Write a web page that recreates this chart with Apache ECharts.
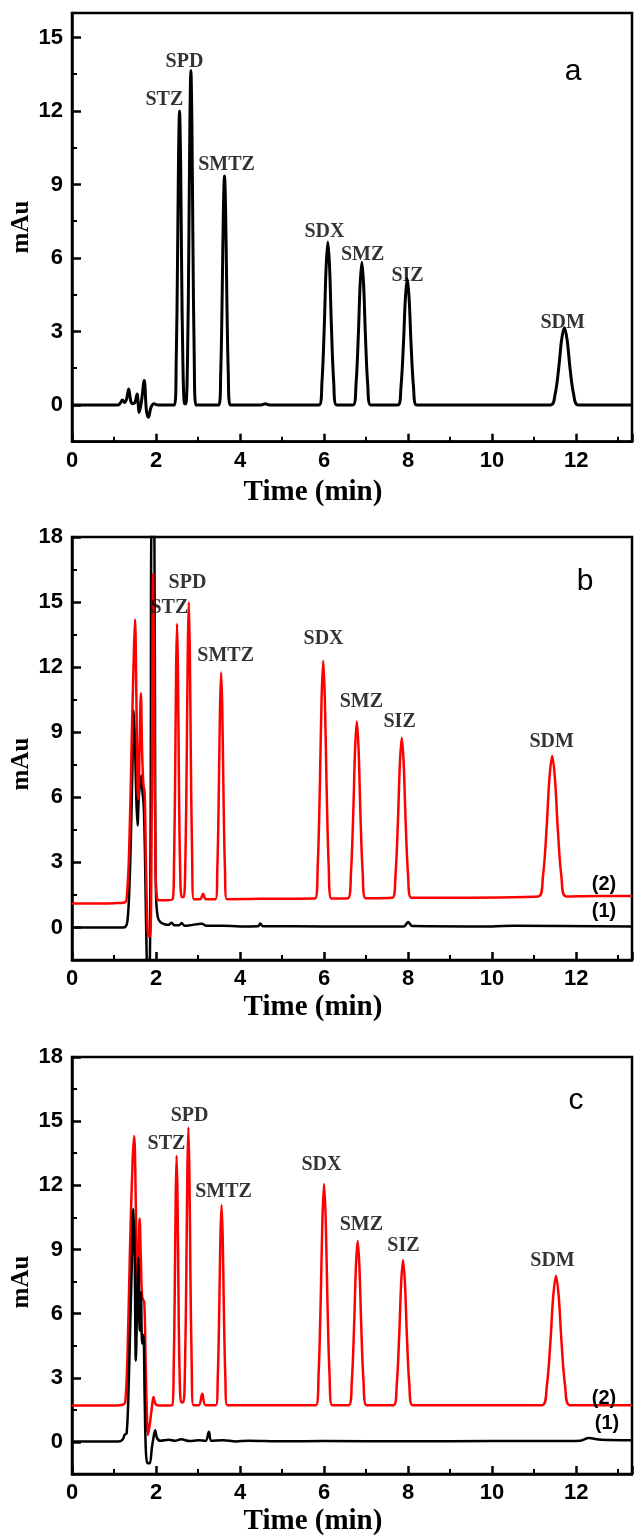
<!DOCTYPE html>
<html><head><meta charset="utf-8">
<script src="https://cdn.jsdelivr.net/npm/echarts@6/dist/echarts.min.js"></script>
<style>html,body{margin:0;padding:0;background:#fff}#c{width:635px;height:1535px}</style>
</head><body><div id="c"></div>
<script>
// ---------- data (time in min, signal in mAu) ----------
const xTicksMax = 13.33;
const xTickLabels = [0, 2, 4, 6, 8, 10, 12];
const yMajorA = [0, 3, 6, 9, 12, 15];
const yMinorA = [1.5, 4.5, 7.5, 10.5, 13.5];
const yMajorBC = [0, 3, 6, 9, 12, 15, 18];
const yMinorBC = [1.5, 4.5, 7.5, 10.5, 13.5, 16.5];

const peakNames = ['STZ', 'SPD', 'SMTZ', 'SDX', 'SMZ', 'SIZ', 'SDM'];
const labelPosA = [[2.21, 12.43], [2.69, 13.98], [3.69, 9.78], [6.02, 7.05], [6.93, 6.11], [8.0, 5.26], [11.69, 3.34]];
const labelPosB = [[2.33, 14.72], [2.76, 15.87], [3.67, 12.5], [6.0, 13.29], [6.9, 10.38], [7.81, 9.46], [11.43, 8.54]];
const labelPosC = [[2.26, 13.93], [2.81, 15.24], [3.62, 11.69], [5.95, 12.95], [6.9, 10.14], [7.9, 9.16], [11.45, 8.46]];

const traceA = [
  [0,0],[1.1,0],[1.15,0.08],[1.2,0.2],[1.25,0.1],[1.3,0.25],[1.35,0.65],[1.4,0.15],[1.45,0.05],[1.5,0.1],
  [1.55,0.45],[1.6,-0.3],[1.65,0.1],[1.72,1.0],[1.77,-0.2],[1.82,-0.5],[1.88,-0.1],[1.95,0.05],[2.05,0],[2.44,0],
  [2.48,1.7],[2.512,5.9],[2.536,10.1],[2.56,12.0],[2.584,10.1],[2.608,5.9],[2.64,1.7],[2.68,0.05],[2.71,0.05],
  [2.75,1.9],[2.782,6.7],[2.806,11.5],[2.83,13.65],[2.854,11.5],[2.878,6.7],[2.91,1.9],[2.95,0],
  [3.495,0],[3.54,1.3],[3.576,4.6],[3.603,7.9],[3.63,9.35],[3.657,7.9],[3.684,4.6],[3.72,1.3],[3.765,0],
  [4.5,0],[4.6,0.05],[4.7,0],
  [5.88,0],[5.95,0.93],[6.006,3.26],[6.048,5.59],[6.09,6.65],[6.132,5.59],[6.174,3.26],[6.23,0.93],[6.30,0],
  [6.69,0],[6.76,0.82],[6.816,2.86],[6.858,4.9],[6.9,5.83],[6.942,4.9],[6.984,2.86],[7.04,0.82],[7.11,0],
  [7.755,0],[7.83,0.72],[7.89,2.52],[7.935,4.33],[7.98,5.15],[8.025,4.33],[8.07,2.52],[8.13,0.72],[8.205,0],
  [11.39,0],[11.5,0.44],[11.588,1.54],[11.654,2.65],[11.72,3.15],[11.786,2.65],[11.852,1.54],[11.94,0.44],[12.05,0],
  [13.33,0]
];

const traceB1 = [
  [0,0],[1.2,0],[1.28,0.05],[1.32,0.3],[1.36,1.5],[1.4,4],[1.44,7.5],[1.47,10],[1.5,8.5],[1.53,6],[1.56,4.7],
  [1.59,6],[1.62,6.6],[1.65,7.0],[1.68,6.2],[1.71,5.5],[1.74,3],[1.77,-0.5],[1.8,-2],[1.84,-2],[1.87,4],
  [1.9,19],[1.96,19],[1.98,6],[2.0,1.5],[2.04,0.5],[2.1,0.25],[2.2,0.15],[2.3,0.12],[2.37,0.22],[2.44,0.1],
  [2.55,0.1],[2.61,0.2],[2.68,0.08],[2.8,0.1],[3.09,0.17],[3.2,0.08],[3.6,0.08],[4.0,0.05],[4.43,0.06],[4.48,0.18],
  [4.54,0.06],[6,0.05],[7.9,0.05],[8.0,0.25],[8.1,0.07],[10,0.05],[10.5,0.08],[13.33,0.05]
];

const traceB2 = [
  [0,1.1],[0.5,1.1],[1.0,1.12],[1.25,1.15],[1.3,1.3],[1.36,3.5],[1.42,8.5],[1.47,12.5],[1.5,14.2],[1.53,11],
  [1.56,6.5],[1.58,5.9],[1.61,8.5],[1.64,10.8],[1.67,8.0],[1.7,6.6],[1.73,6.2],[1.76,3.0],[1.79,0.5],[1.82,-0.4],
  [1.86,-0.4],[1.9,6],[1.93,16.3],[1.96,10],[1.99,2.5],[2.03,1.3],[2.1,1.25],[2.395,1.3],
  [2.43,3.08],[2.458,7.52],[2.479,11.97],[2.5,14.0],[2.521,11.97],[2.542,7.52],[2.57,3.08],[2.61,1.4],[2.66,1.4],
  [2.7,3.22],[2.732,8.01],[2.756,12.81],[2.78,15.0],[2.804,12.81],[2.828,8.01],[2.86,3.22],[2.9,1.3],
  [3.05,1.3],[3.12,1.55],[3.19,1.3],
  [3.415,1.3],[3.46,2.76],[3.496,6.42],[3.523,10.08],[3.55,11.75],[3.577,10.08],[3.604,6.42],[3.64,2.76],[3.685,1.3],
  [4.5,1.32],[5.785,1.33],
  [5.85,2.87],[5.902,6.71],[5.941,10.54],[5.98,12.3],[6.019,10.54],[6.058,6.71],[6.11,2.87],[6.175,1.33],
  [6.57,1.35],[6.64,2.49],[6.696,5.34],[6.738,8.2],[6.78,9.5],[6.822,8.2],[6.864,5.34],[6.92,2.49],[6.99,1.35],
  [7.625,1.37],[7.7,2.4],[7.76,4.99],[7.805,7.57],[7.85,8.75],[7.895,7.57],[7.94,4.99],[8.0,2.4],[8.075,1.37],
  [11.1,1.43],[11.21,2.34],[11.298,4.6],[11.364,6.86],[11.43,7.9],[11.496,6.86],[11.562,4.6],[11.65,2.34],[11.76,1.43],
  [12.5,1.45],[13.33,1.45]
];

const traceC1 = [
  [0,0.02],[1.1,0.02],[1.2,0.1],[1.26,0.35],[1.3,0.4],[1.34,2],[1.38,5],[1.42,8],[1.46,10.9],[1.49,9],[1.52,3.8],
  [1.55,6.5],[1.58,8.6],[1.61,5.2],[1.64,7.0],[1.67,4.6],[1.7,5],[1.73,2],[1.76,-0.5],[1.8,-1.0],[1.85,-1.0],
  [1.9,-0.3],[1.94,0.2],[1.98,0.55],[2.02,0.2],[2.1,0.05],[2.3,0.1],[2.45,0.05],[2.6,0.12],[2.8,0.04],[3.0,0.08],
  [3.18,0.05],[3.26,0.48],[3.32,0.05],[3.6,0.08],[3.9,0.02],[4.2,0.06],[5,0.03],[6,0.04],[8,0.03],[10,0.04],
  [11.5,0.04],[12.1,0.06],[12.3,0.18],[12.6,0.1],[13.33,0.08]
];

const traceC2 = [
  [0,1.7],[1.0,1.7],[1.22,1.75],[1.27,1.9],[1.32,4],[1.38,9],[1.44,13],[1.48,14.3],[1.52,11],[1.55,7.5],[1.58,8.5],
  [1.61,10.45],[1.64,8.5],[1.67,6.8],[1.72,6.5],[1.75,4],[1.78,1.5],[1.81,0.33],[1.85,0.8],[1.9,1.6],[1.94,2.1],
  [1.98,1.8],[2.05,1.7],[2.385,1.72],
  [2.42,3.35],[2.448,7.43],[2.469,11.51],[2.49,13.38],[2.511,11.51],[2.532,7.43],[2.56,3.35],[2.6,1.85],[2.65,1.85],
  [2.69,3.54],[2.722,8.09],[2.746,12.63],[2.77,14.71],[2.794,12.63],[2.818,8.09],[2.85,3.54],[2.89,1.72],
  [3.02,1.72],[3.1,2.25],[3.18,1.72],
  [3.425,1.72],[3.47,3.03],[3.506,6.31],[3.533,9.58],[3.56,11.08],[3.587,9.58],[3.614,6.31],[3.65,3.03],[3.695,1.72],
  [4.5,1.72],[5.805,1.72],
  [5.87,3.17],[5.922,6.79],[5.961,10.41],[6.0,12.06],[6.039,10.41],[6.078,6.79],[6.13,3.17],[6.195,1.72],
  [6.59,1.72],[6.66,2.8],[6.716,5.49],[6.758,8.18],[6.8,9.41],[6.842,8.18],[6.884,5.49],[6.94,2.8],[7.01,1.72],
  [7.655,1.72],[7.73,2.67],[7.79,5.05],[7.835,7.42],[7.88,8.51],[7.925,7.42],[7.97,5.05],[8.03,2.67],[8.105,1.72],
  [11.19,1.72],[11.3,2.57],[11.388,4.68],[11.454,6.79],[11.52,7.76],[11.586,6.79],[11.652,4.68],[11.74,2.57],[11.85,1.72],
  [13.33,1.72]
];

// ---------- layout ----------
const panels = [
  {top: 13,   height: 428.7, min: -1.5, max: 16, major: yMajorA,  minor: yMinorA},
  {top: 537,  height: 423,   min: -1.5, max: 18, major: yMajorBC, minor: yMinorBC},
  {top: 1057, height: 417,   min: -1.5, max: 18, major: yMajorBC, minor: yMinorBC}
];

const grids = [], xAxes = [], yAxes = [], series = [];
const axisColor = '#000';
panels.forEach((p, i) => {
  grids.push({left: 72, right: 3, top: p.top, height: p.height, show: true, borderColor: '#000', borderWidth: 2.5, backgroundColor: 'transparent'});
  xAxes.push({
    gridIndex: i, type: 'value', min: 0, max: xTicksMax, interval: 2,
    axisLine: {show: true, onZero: false, lineStyle: {color: axisColor, width: 2.5}},
    axisTick: {show: true, inside: true, length: 8, lineStyle: {color: axisColor, width: 2.5}},
    minorTick: {show: true, splitNumber: 2, length: 5, lineStyle: {color: axisColor, width: 2}},
    splitLine: {show: false}, minorSplitLine: {show: false},
    axisLabel: {customValues: xTickLabels,
      fontFamily: 'Liberation Sans', fontWeight: 'bold', fontSize: 22, color: '#000', margin: 8}
  });
  yAxes.push({
    gridIndex: i, type: 'value', min: p.min, max: p.max,
    axisLine: {show: true, onZero: false, lineStyle: {color: axisColor, width: 2.5}},
    axisTick: {show: true, inside: true, length: 9, customValues: p.major, lineStyle: {color: axisColor, width: 2.5}},
    axisLabel: {customValues: p.major, fontFamily: 'Liberation Sans', fontWeight: 'bold', fontSize: 22, color: '#000', margin: 9},
    splitLine: {show: false}
  });
  yAxes.push({
    gridIndex: i, type: 'value', min: p.min, max: p.max, position: 'left',
    axisLine: {show: false},
    axisTick: {show: true, inside: true, length: 5, customValues: p.minor, lineStyle: {color: axisColor, width: 2}},
    axisLabel: {show: false}, splitLine: {show: false}
  });
});

function line(data, gi, color, width, z) {
  return {type: 'line', xAxisIndex: gi, yAxisIndex: gi * 2, data: data, showSymbol: false, symbol: 'none',
    smooth: 0.35, clip: true, z: z, silent: true,
    lineStyle: {color: color, width: width, join: 'round'}};
}
function labels(pos, gi) {
  return {type: 'scatter', xAxisIndex: gi, yAxisIndex: gi * 2, symbolSize: 1, silent: true, z: 10,
    itemStyle: {color: 'rgba(0,0,0,0)'},
    label: {show: true, position: [0, 0], align: 'center', verticalAlign: 'middle', formatter: '{b}',
      fontFamily: 'Liberation Serif', fontWeight: 'bold', fontSize: 20, color: '#000', textBorderWidth: 0},
    data: pos.map((p, k) => ({name: peakNames[k], value: p}))};
}
series.push(line(traceA, 0, '#000', 3, 3));
series.push(line(traceB1, 1, '#000', 2.5, 2));
series.push(line(traceB2, 1, '#ff0000', 2.5, 3));
series.push(line(traceC2, 2, '#ff0000', 2.5, 2));
series.push(line(traceC1, 2, '#000', 2.5, 3));
series.push(labels(labelPosA, 0));
series.push(labels(labelPosB, 1));
series.push(labels(labelPosC, 2));

const serif = 'Liberation Serif', sans = 'Liberation Sans';
function txt(x, y, s, font, size, weight, rot) {
  return {type: 'text', x: x, y: y, rotation: rot || 0, z: 20,
    style: {text: s, fontFamily: font, fontSize: size, fontWeight: weight, fill: '#000', align: 'center', verticalAlign: 'middle'}};
}
const graphic = [
  txt(313, 493, 'Time (min)', serif, 29, 'bold'),
  txt(313, 1008, 'Time (min)', serif, 29, 'bold'),
  txt(313, 1522, 'Time (min)', serif, 29, 'bold'),
  txt(22, 227, 'mAu', serif, 25, 'bold', Math.PI / 2),
  txt(22, 764, 'mAu', serif, 25, 'bold', Math.PI / 2),
  txt(22, 1282, 'mAu', serif, 25, 'bold', Math.PI / 2),
  txt(573, 72, 'a', sans, 30, 'normal'),
  txt(585, 582, 'b', sans, 30, 'normal'),
  txt(576, 1101, 'c', sans, 30, 'normal'),
  txt(604, 884, '(2)', sans, 20, 'bold'),
  txt(604, 911, '(1)', sans, 20, 'bold'),
  txt(604, 1398, '(2)', sans, 20, 'bold'),
  txt(607, 1423, '(1)', sans, 20, 'bold')
];

const chart = echarts.init(document.getElementById('c'), null, {renderer: 'canvas'});
chart.setOption({animation: false, backgroundColor: '#fff', grid: grids, xAxis: xAxes, yAxis: yAxes, series: series, graphic: graphic});
</script>
</body></html>
